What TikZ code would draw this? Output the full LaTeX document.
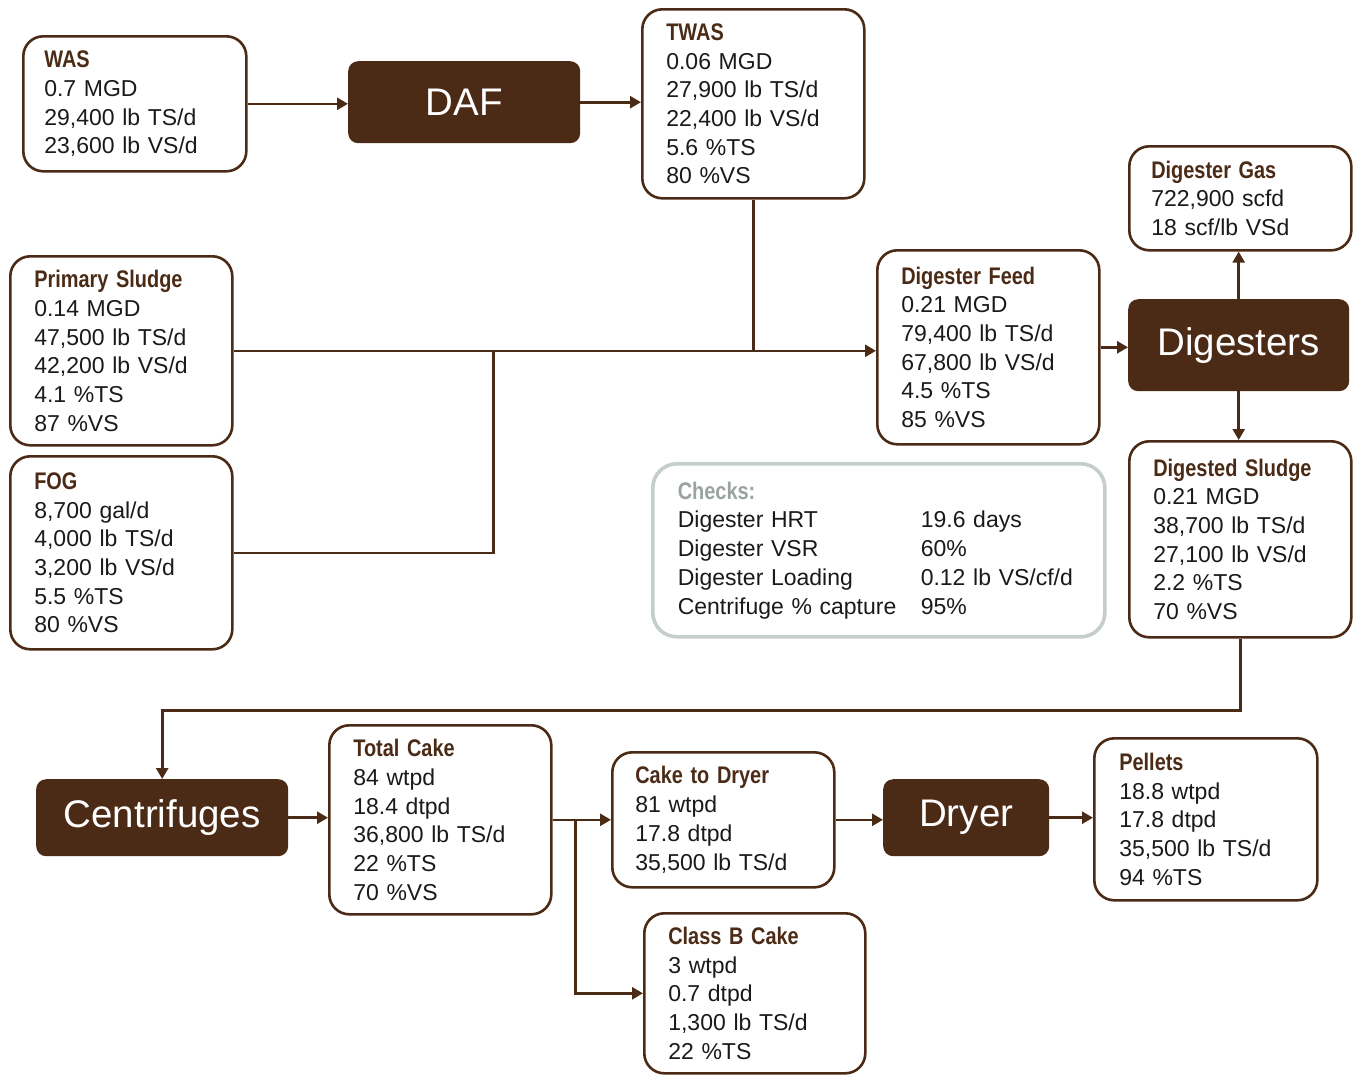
\documentclass[tikz,border=0pt]{standalone}
\usepackage{fontspec}
\setmainfont{Liberation Sans}
\newfontfamily\ttlfont[FakeStretch=0.83]{Liberation Sans}
\usetikzlibrary{arrows.meta,calc}
\definecolor{brn}{HTML}{4B2B16}
\definecolor{chk}{HTML}{C6CEC9}
\definecolor{chktxt}{HTML}{9AA49E}
\definecolor{ink}{HTML}{1A1A1A}
\newcommand{\ttl}[1]{{\ttlfont\bfseries\fontsize{24}{28.7}\selectfont\color{brn}#1}}
\newcommand{\chkrow}[2]{\makebox[243pt][l]{#1}#2}
\begin{document}
\begin{tikzpicture}[x=1pt,y=-1pt,
  box/.style={draw=brn, line width=2.6pt, rounded corners=20pt, fill=white,
    anchor=north west, align=left, inner xsep=24pt, inner ysep=0pt,
    text=ink, font=\fontsize{23}{28.7}\selectfont},
  proc/.style={fill=brn, rounded corners=10pt, anchor=north west,
    text=white, font=\fontsize{38.5}{44}\selectfont, inner sep=0pt},
  link/.style={draw=brn, line width=2.6pt},
  arr/.style={link, -{Triangle[length=11pt,width=12pt]}}]
\useasboundingbox (0,0) rectangle (1354,1074);

% data boxes
\node[box, inner xsep=21pt, text width=181pt, minimum width=223pt, minimum height=135pt] (was) at (22,35)
  {\ttl{WAS}\\0.7 MGD\\29,400 lb TS/d\\23,600 lb VS/d};
\node[box, text width=174pt, minimum width=222pt, minimum height=189pt] (twas) at (641,8)
  {\ttl{TWAS}\\0.06 MGD\\27,900 lb TS/d\\22,400 lb VS/d\\5.6 \%TS\\80 \%VS};
\node[box, inner xsep=22pt, text width=178pt, minimum width=222pt, minimum height=104pt] (gas) at (1128,145)
  {\ttl{Digester Gas}\\722,900 scfd\\18 scf/lb VSd};
\node[box, text width=174pt, minimum width=222pt, minimum height=189pt] (ps) at (9,255)
  {\ttl{Primary Sludge}\\0.14 MGD\\47,500 lb TS/d\\42,200 lb VS/d\\4.1 \%TS\\87 \%VS};
\node[box, text width=174pt, minimum width=222pt, minimum height=194pt] (feed) at (876,249)
  {\ttl{Digester Feed}\\0.21 MGD\\79,400 lb TS/d\\67,800 lb VS/d\\4.5 \%TS\\85 \%VS};
\node[box, text width=174pt, minimum width=222pt, minimum height=193pt] (fog) at (9,455)
  {\ttl{FOG}\\8,700 gal/d\\4,000 lb TS/d\\3,200 lb VS/d\\5.5 \%TS\\80 \%VS};
\node[box, text width=174pt, minimum width=222pt, minimum height=196pt] (ds) at (1128,440)
  {\ttl{Digested Sludge}\\0.21 MGD\\38,700 lb TS/d\\27,100 lb VS/d\\2.2 \%TS\\70 \%VS};
\node[box, text width=174pt, minimum width=222pt, minimum height=189pt] (tc) at (328,724)
  {\ttl{Total Cake}\\84 wtpd\\18.4 dtpd\\36,800 lb TS/d\\22 \%TS\\70 \%VS};
\node[box, inner xsep=23pt, text width=176pt, minimum width=222pt, minimum height=135pt] (ctd) at (611,751)
  {\ttl{Cake to Dryer}\\81 wtpd\\17.8 dtpd\\35,500 lb TS/d};
\node[box, inner xsep=25pt, text width=173pt, minimum width=223pt, minimum height=162pt] (pel) at (1093,737)
  {\ttl{Pellets}\\18.8 wtpd\\17.8 dtpd\\35,500 lb TS/d\\94 \%TS};
\node[box, text width=173pt, minimum width=221pt, minimum height=160pt] (cbc) at (643,912)
  {\ttl{Class B Cake}\\3 wtpd\\0.7 dtpd\\1,300 lb TS/d\\22 \%TS};

% checks panel
\node[box, draw=chk, line width=3.6pt, rounded corners=24pt, inner xsep=25pt,
  text width=402pt, minimum width=452pt, minimum height=173pt] (chk) at (651,462)
  {{\ttlfont\bfseries\fontsize{24}{28.7}\selectfont\color{chktxt}Checks:}\\
   \chkrow{Digester HRT}{19.6 days}\\
   \chkrow{Digester VSR}{60\%}\\
   \chkrow{Digester Loading}{0.12 lb VS/cf/d}\\
   \chkrow{Centrifuge \% capture}{95\%}};

% process units
\node[proc, minimum width=232pt, minimum height=82pt] (daf) at (348,61) {DAF};
\node[proc, minimum width=221pt, minimum height=92pt] (dig) at (1128,299) {Digesters};
\node[proc, minimum width=252pt, minimum height=77pt] (cent) at (36,779) {Centrifuges};
\node[proc, minimum width=166pt, minimum height=77pt] (dry) at (883,779) {Dryer};

% flows
\draw[arr] (was.east) -- (was.east -| daf.west);
\draw[arr] (daf.east) -- (daf.east -| twas.west);
\draw[arr] (ps.east) -- (ps.east -| feed.west);
\draw[link] (twas.south) -- (twas.south |- ps.east);
\path (ps.east) ++(260,0) coordinate (j1);
\draw[link] (fog.east) -| (j1);
\draw[arr] (feed.east) -- (feed.east -| dig.west);
\draw[arr] (dig.north) -- (dig.north |- gas.south);
\draw[arr] (dig.south) -- (dig.south |- ds.north);
\draw[arr] (ds.south) -- ++(0,72) -| (cent.north);
\draw[arr] (cent.east) -- (cent.east -| tc.west);
\draw[arr] (tc.east) -- (tc.east -| ctd.west);
\path (tc.east) ++(23,0) coordinate (j2);
\draw[arr] (j2) |- (cbc.west);
\draw[arr] (ctd.east) -- (ctd.east -| dry.west);
\draw[arr] (dry.east) -- (dry.east -| pel.west);
\end{tikzpicture}
\end{document}
